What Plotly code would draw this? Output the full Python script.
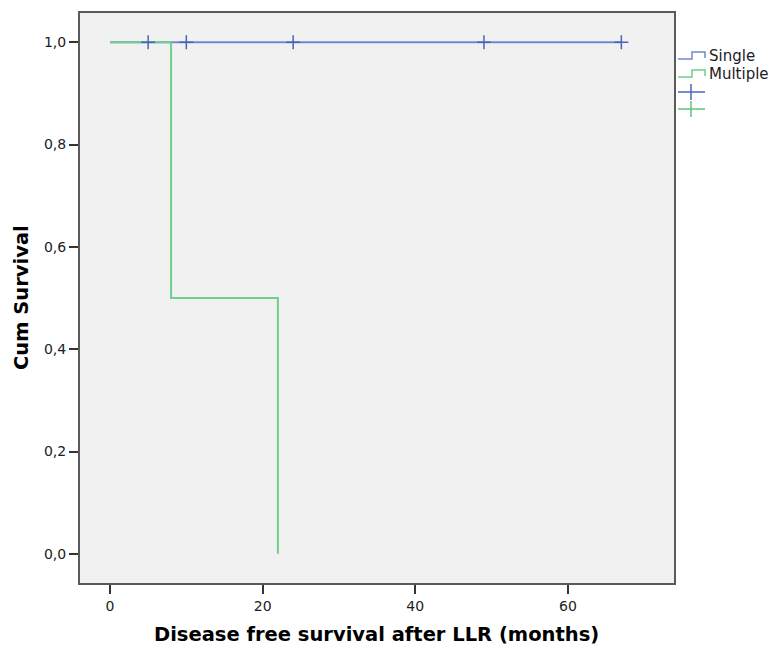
import plotly.graph_objects as go

# Kaplan-Meier estimates: disease free survival after LLR, by lesion count
single_times = [0, 67]
single_surv = [1.0, 1.0]
single_censor_times = [5, 10, 24, 49, 67]
single_censor_surv = [1.0, 1.0, 1.0, 1.0, 1.0]

multiple_times = [0, 8, 22]
multiple_surv = [1.0, 0.5, 0.0]

group_names = ["Single", "Multiple"]
x_ticks = [0, 20, 40, 60]
y_ticks = [0.0, 0.2, 0.4, 0.6, 0.8, 1.0]

BLUE_LINE = "#7388d2"
BLUE_MARK = "#4b64bb"
GREEN_LINE = "#6fd08d"
GREEN_MARK = "#5cc57d"
TEXT = "#1c1c24"
FONT = "DejaVu Sans"

W, H = 779, 653
L, R, T, B = 80, 105, 13, 70

fig = go.Figure()

fig.add_trace(go.Scatter(
    x=single_times, y=single_surv, mode="lines", line_shape="hv",
    line=dict(color=BLUE_LINE, width=2), name=group_names[0], showlegend=False))
fig.add_trace(go.Scatter(
    x=multiple_times, y=multiple_surv, mode="lines", line_shape="hv",
    line=dict(color=GREEN_LINE, width=2), name=group_names[1], showlegend=False))
fig.add_trace(go.Scatter(
    x=single_censor_times, y=single_censor_surv, mode="markers",
    marker=dict(symbol="cross-thin", size=10, line=dict(color=BLUE_MARK, width=1.5)),
    name=group_names[0] + "-censored", showlegend=False))

# pixel -> paper helpers for the hand-drawn legend
pw, ph = W - L - R, H - T - B
def px(x):
    return (x - L) / pw
def py(y):
    return (H - B - y) / ph

shapes = []
annotations = []

# step-shaped legend keys
for (yl, yh, col, label) in [(59, 52, BLUE_LINE, group_names[0]), (77, 70, GREEN_LINE, group_names[1])]:
    path = (f"M {px(678)},{py(yl)} L {px(692)},{py(yl)} L {px(692)},{py(yh)} "
            f"L {px(705)},{py(yh)} L {px(705)},{py(yh + 6)}")
    shapes.append(dict(type="path", path=path, xref="paper", yref="paper",
                       line=dict(color=col, width=1.5)))
    annotations.append(dict(text=label, x=px(707), y=py((yl + yh) / 2 + 0.5),
                            xref="paper", yref="paper", xanchor="left", yanchor="middle",
                            showarrow=False, font=dict(family=FONT, size=15, color=TEXT)))

# censor-mark legend keys
for (yc, col) in [(92, BLUE_MARK), (109, GREEN_MARK)]:
    shapes.append(dict(type="line", xref="paper", yref="paper",
                       x0=px(678), x1=px(705), y0=py(yc), y1=py(yc),
                       line=dict(color=col, width=1.5)))
    shapes.append(dict(type="line", xref="paper", yref="paper",
                       x0=px(691), x1=px(691), y0=py(yc - 8), y1=py(yc + 8),
                       line=dict(color=col, width=1.5)))

# axis titles
annotations.append(dict(text="<b>Disease free survival after LLR (months)</b>",
                        x=px(376), y=py(634), xref="paper", yref="paper",
                        xanchor="center", yanchor="middle", showarrow=False,
                        font=dict(family=FONT, size=19.5, color="#000")))
annotations.append(dict(text="<b>Cum Survival</b>", x=px(21), y=py(298),
                        xref="paper", yref="paper", xanchor="center", yanchor="middle",
                        textangle=-90, showarrow=False,
                        font=dict(family=FONT, size=19.5, color="#000")))

fig.update_layout(
    width=W, height=H,
    margin=dict(l=L, r=R, t=T, b=B, pad=0),
    paper_bgcolor="white", plot_bgcolor="#f1f1f1",
    separators=",.",
    shapes=shapes, annotations=annotations,
    showlegend=False,
)
axis_common = dict(showgrid=False, zeroline=False, showline=True, mirror=True,
                   linecolor="#5a5a5a", linewidth=2, ticks="outside", ticklen=9,
                   tickwidth=1.5, tickcolor="#333",
                   tickfont=dict(family=FONT, size=14, color=TEXT))
fig.update_xaxes(range=[-3.93, 73.9], tickvals=x_ticks, **axis_common)
fig.update_yaxes(range=[-0.057, 1.057], tickvals=y_ticks, tickformat=".1f", **axis_common)

fig.write_html("out.html")
